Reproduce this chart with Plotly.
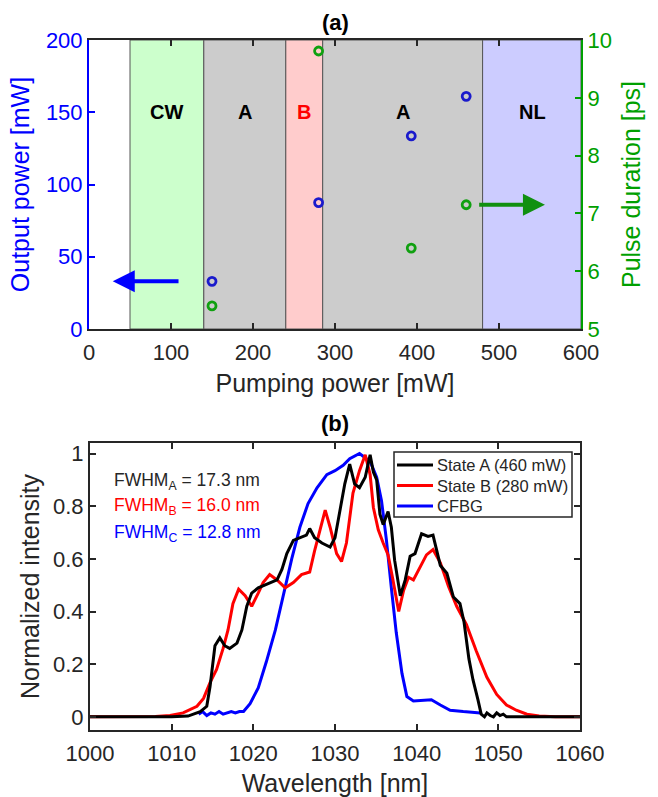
import plotly.graph_objects as go

# ---------------- Panel (a) data ----------------
pump_power = [150, 280, 393, 460]            # mW
output_power = [33, 87.5, 133.6, 161]         # mW (left axis)
pulse_duration = [5.40, 9.81, 6.40, 7.15]     # ps (right axis)

region_start = [50, 140, 240, 285, 480]
region_end = [140, 240, 285, 480, 600]
region_colors = ["#ccffcc", "#cccccc", "#ffcccc", "#cccccc", "#ccccff"]
region_labels = ["CW", "A", "B", "A", "NL"]
region_label_x = [95, 190, 262, 383, 541]
region_label_colors = ["#000000", "#000000", "#ff0000", "#000000", "#000000"]

# ---------------- Panel (b) data ----------------
lam_A = [1000, 1010, 1012, 1013.5, 1014.3, 1014.7, 1015.3, 1015.9, 1016.5, 1017.1,
         1018.0, 1018.6, 1019.2, 1019.8, 1020.6, 1022.0, 1022.9, 1023.5, 1024.1, 1024.9,
         1025.7, 1026.5, 1026.9, 1027.5, 1028.4, 1029.4, 1030.0, 1030.6, 1031.2, 1031.8,
         1032.4, 1033.0, 1033.7, 1034.3, 1034.7, 1035.1, 1035.5, 1035.9, 1036.5, 1036.9,
         1037.3, 1038.0, 1038.6, 1039.2, 1039.8, 1040.6, 1041.4, 1042.0, 1042.9, 1043.7,
         1044.5, 1045.3, 1045.8, 1046.4, 1046.9, 1047.5, 1047.9, 1048.3, 1048.6, 1049.0,
         1049.4, 1049.8, 1050.2, 1050.6, 1051.0, 1060]
I_A = [0, 0, 0.003, 0.02, 0.04, 0.115, 0.27, 0.30, 0.27, 0.26,
       0.28, 0.33, 0.42, 0.47, 0.49, 0.51, 0.52, 0.56, 0.62, 0.67,
       0.68, 0.69, 0.715, 0.68, 0.66, 0.645, 0.68, 0.78, 0.885, 0.96,
       0.885, 0.87, 0.91, 0.995, 0.93, 0.90, 0.77, 0.73, 0.78, 0.72,
       0.595, 0.46, 0.52, 0.61, 0.62, 0.695, 0.685, 0.69, 0.575, 0.545,
       0.455, 0.43, 0.36, 0.22, 0.14, 0.065, 0.01, 0.0, 0.015, 0.005,
       0.0, 0.015, 0.005, 0.01, 0.0, 0]

lam_B = [1000, 1006, 1008, 1009.8, 1011.4, 1013.1, 1013.9, 1014.7, 1015.5, 1016.3,
         1016.9, 1017.5, 1018.2, 1019.0, 1019.8, 1020.6, 1021.2, 1022.0, 1022.9, 1023.9,
         1024.9, 1025.9, 1026.9, 1027.5, 1028.2, 1028.8, 1029.4, 1030.2, 1030.8, 1031.4,
         1032.2, 1033.0, 1033.7, 1034.3, 1034.7, 1035.3, 1035.9, 1036.5, 1037.1, 1037.8,
         1038.4, 1039.0, 1039.6, 1040.4, 1041.2, 1042.0, 1042.9, 1043.9, 1044.9, 1046.1,
         1047.3, 1048.6, 1049.8, 1051.0, 1052.2, 1053.5, 1055, 1057, 1060]
I_B = [0, 0, 0.001, 0.005, 0.015, 0.04, 0.07, 0.13, 0.18, 0.26,
       0.33, 0.43, 0.485, 0.46, 0.42, 0.47, 0.51, 0.54, 0.52, 0.49,
       0.51, 0.54, 0.55, 0.63, 0.71, 0.785, 0.72, 0.62, 0.59, 0.66,
       0.85, 0.935, 0.995, 0.92, 0.795, 0.71, 0.66, 0.615, 0.52, 0.40,
       0.48, 0.53, 0.52, 0.565, 0.615, 0.635, 0.585, 0.495, 0.42, 0.35,
       0.25, 0.15, 0.085, 0.045, 0.025, 0.01, 0.003, 0, 0]

lam_C = [1013.3, 1013.8, 1014.3, 1014.8, 1015.3, 1015.8, 1016.3, 1016.8, 1017.3, 1017.8,
         1018.3, 1018.8, 1019.6, 1020.6, 1021.6, 1022.7, 1023.7, 1024.7, 1025.7, 1026.7,
         1027.8, 1029.0, 1030.0, 1031.0, 1031.8, 1033.0, 1034.3, 1035.1, 1035.7, 1036.3,
         1036.9, 1037.5, 1038.2, 1038.8, 1039.6, 1040.8, 1041.8, 1042.9, 1044.1, 1045.7,
         1047.8]
I_C = [0.01, 0.02, 0.005, 0.015, 0.01, 0.02, 0.01, 0.015, 0.02, 0.015,
       0.02, 0.02, 0.05, 0.11, 0.21, 0.33, 0.47, 0.60, 0.72, 0.81,
       0.87, 0.92, 0.935, 0.955, 0.98, 1.0, 0.97, 0.91, 0.82, 0.67,
       0.49, 0.32, 0.165, 0.077, 0.06, 0.062, 0.065, 0.045, 0.025, 0.02,
       0.015]

series_names = ["State A (460 mW)", "State B (280 mW)", "CFBG"]
series_colors = ["#000000", "#ff0000", "#0000ff"]

fwhm_labels = ["FWHM<sub>A</sub> = 17.3 nm", "FWHM<sub>B</sub> = 16.0 nm", "FWHM<sub>C</sub> = 12.8 nm"]
fwhm_colors = ["#262626", "#ff0000", "#0000ff"]

x_ticks_a = [0, 100, 200, 300, 400, 500, 600]
y_ticks_a = [0, 50, 100, 150, 200]
y2_ticks_a = [5, 6, 7, 8, 9, 10]
x_ticks_b = [1000, 1010, 1020, 1030, 1040, 1050, 1060]
y_ticks_b = [0, 0.2, 0.4, 0.6, 0.8, 1]
y_ticktext_b = ["0", "0.2", "0.4", "0.6", "0.8", "1"]

# ---------------- Styling ----------------
W, H = 658, 797
FONT = "Liberation Sans, Arial, Helvetica, sans-serif"
DARK = "#262626"
BLUE = "#0000ff"
GREEN = "#00a000"
TICKF = 22
TITLEF = 25


def px_x(p):
    return p / W


def px_y(p):
    return 1 - p / H


fig = go.Figure()

# panel (a)
fig.add_trace(go.Scatter(x=pump_power, y=output_power, mode="markers", xaxis="x", yaxis="y",
                         marker=dict(symbol="circle-open", size=8, color="#1a1acc", line=dict(width=2.8)),
                         showlegend=False))
fig.add_trace(go.Scatter(x=pump_power, y=pulse_duration, mode="markers", xaxis="x", yaxis="y2",
                         marker=dict(symbol="circle-open", size=8, color="#10a010", line=dict(width=2.8)),
                         showlegend=False))

# panel (b): draw CFBG first, then B, then A on top
for lam, inten, nm, col in [(lam_C, I_C, series_names[2], series_colors[2]),
                            (lam_B, I_B, series_names[1], series_colors[1]),
                            (lam_A, I_A, series_names[0], series_colors[0])]:
    fig.add_trace(go.Scatter(x=lam, y=inten, mode="lines", xaxis="x2", yaxis="y3", name=nm,
                             line=dict(color=col, width=3), showlegend=False))

shapes = []
for s, e, c in zip(region_start, region_end, region_colors):
    shapes.append(dict(type="rect", xref="x", yref="y", x0=s, x1=e, y0=0, y1=200,
                       fillcolor=c, line=dict(color="#555555", width=1), layer="below"))

annotations = []
for lab, lx, lc in zip(region_labels, region_label_x, region_label_colors):
    annotations.append(dict(x=lx, y=150, xref="x", yref="y", text="<b>%s</b>" % lab, showarrow=False,
                            xanchor="center", yanchor="middle",
                            font=dict(family=FONT, size=20, color=lc)))

# arrows
annotations.append(dict(x=29, y=33, ax=111, ay=33, xref="x", yref="y", axref="x", ayref="y",
                        text="", showarrow=True, arrowhead=2, arrowsize=1.1, arrowwidth=4, arrowcolor=BLUE))
annotations.append(dict(x=556, y=7.15, ax=474, ay=7.15, xref="x", yref="y2", axref="x", ayref="y2",
                        text="", showarrow=True, arrowhead=2, arrowsize=1.1, arrowwidth=4, arrowcolor="#109010"))

# panel titles
annotations.append(dict(x=px_x(335), y=px_y(23), xref="paper", yref="paper", text="<b>(a)</b>",
                        xanchor="center", yanchor="middle",
                        showarrow=False, font=dict(family=FONT, size=22, color="#000000")))
annotations.append(dict(x=px_x(335), y=px_y(424), xref="paper", yref="paper", text="<b>(b)</b>",
                        xanchor="center", yanchor="middle",
                        showarrow=False, font=dict(family=FONT, size=22, color="#000000")))

for i, (t, c) in enumerate(zip(fwhm_labels, fwhm_colors)):
    annotations.append(dict(x=px_x(112), y=px_y(481 + 26 * i), xref="paper", yref="paper", text=t,
                            xanchor="left", yanchor="middle", showarrow=False,
                            font=dict(family=FONT, size=17.5, color=c)))

# legend box for panel (b)
LEG_L, LEG_R, LEG_T, LEG_B = 394, 572, 452, 517
shapes.append(dict(type="rect", xref="paper", yref="paper", x0=px_x(LEG_L), x1=px_x(LEG_R),
                   y0=px_y(LEG_B), y1=px_y(LEG_T), fillcolor="white",
                   line=dict(color=DARK, width=1.5), layer="above"))
for i, (nm, col) in enumerate(zip(series_names, series_colors)):
    yc = px_y(465 + 20.5 * i)
    shapes.append(dict(type="line", xref="paper", yref="paper", x0=px_x(397), x1=px_x(433),
                       y0=yc, y1=yc, line=dict(color=col, width=3), layer="above"))
    annotations.append(dict(x=px_x(435), y=yc, xref="paper", yref="paper", text=nm,
                            xanchor="left", yanchor="middle", showarrow=False,
                            font=dict(family=FONT, size=16.5, color=DARK)))

axis_common = dict(showgrid=False, zeroline=False, ticks="inside", ticklen=6, tickwidth=1.5,
                   automargin=False)

fig.update_layout(
    width=W, height=H, autosize=False,
    margin=dict(l=0, r=0, t=0, b=0),
    paper_bgcolor="white", plot_bgcolor="white",
    font=dict(family=FONT, color=DARK),
    shapes=shapes, annotations=annotations, showlegend=False,
    xaxis=dict(domain=[px_x(89), px_x(581)], range=[0, 600], anchor="y", tickvals=x_ticks_a,
               linecolor=DARK, linewidth=2, mirror="ticks", tickcolor=DARK,
               tickfont=dict(size=TICKF, color=DARK), ticklabelstandoff=3,
               title=dict(text="Pumping power [mW]", font=dict(size=TITLEF, color=DARK), standoff=10),
               **axis_common),
    yaxis=dict(domain=[px_y(329), px_y(40)], range=[0, 200], anchor="x", tickvals=y_ticks_a,
               linecolor=BLUE, linewidth=2, tickcolor=BLUE,
               tickfont=dict(size=TICKF, color=BLUE),
               title=dict(text="Output power [mW]", font=dict(size=TITLEF, color=BLUE), standoff=9),
               **axis_common),
    yaxis2=dict(range=[5, 10], overlaying="y", side="right", anchor="x", tickvals=y2_ticks_a,
                linecolor=GREEN, linewidth=2, tickcolor=GREEN,
                tickfont=dict(size=TICKF, color=GREEN),
                title=dict(text="Pulse duration [ps]", font=dict(size=TITLEF, color=GREEN), standoff=12),
                **axis_common),
    xaxis2=dict(domain=[px_x(90), px_x(580)], range=[1000, 1060], anchor="y3", tickvals=x_ticks_b,
                linecolor=DARK, linewidth=2, mirror="ticks", tickcolor=DARK,
                tickfont=dict(size=TICKF, color=DARK), ticklabelstandoff=3,
                title=dict(text="Wavelength [nm]", font=dict(size=TITLEF, color=DARK), standoff=10),
                **axis_common),
    yaxis3=dict(domain=[px_y(730), px_y(443)], range=[-0.05, 1.04], anchor="x2",
                tickvals=y_ticks_b, ticktext=y_ticktext_b,
                linecolor=DARK, linewidth=2, mirror="ticks", tickcolor=DARK,
                tickfont=dict(size=TICKF, color=DARK),
                title=dict(text="Normalized intensity", font=dict(size=TITLEF, color=DARK), standoff=6),
                **axis_common),
)

fig.write_html("out.html", config={"displayModeBar": False},
               post_script="document.body.style.margin='0px';")
